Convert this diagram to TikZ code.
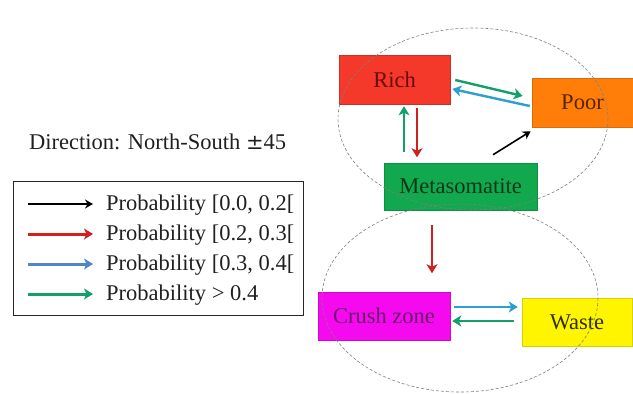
\documentclass[tikz,border=0pt]{standalone}
\usepackage{fontspec}
\setmainfont{Liberation Serif}
\newfontfamily\tnr{Liberation Serif}
\newfontfamily\pmfont{DejaVu Serif}
\usetikzlibrary{arrows.meta,calc}
\definecolor{richc}{HTML}{F4382A}
\definecolor{poorc}{HTML}{FF7E0A}
\definecolor{metac}{HTML}{12A84E}
\definecolor{crushc}{HTML}{F50AF0}
\definecolor{wastec}{HTML}{FFF500}
\definecolor{richt}{HTML}{6A0C08}
\definecolor{poort}{HTML}{5A2400}
\definecolor{metat}{HTML}{083818}
\definecolor{crusht}{HTML}{6A1A6A}
\definecolor{wastet}{HTML}{303000}
\definecolor{agreen}{HTML}{12A06A}
\definecolor{ared}{HTML}{D02020}
\definecolor{ablue}{HTML}{2A9FD0}
\definecolor{lblue}{HTML}{4F86C6}
\definecolor{txtc}{HTML}{202020}
\begin{document}
\begin{tikzpicture}[x=1pt,y=-1pt,
  txt/.style={font=\tnr\fontsize{22.5}{26}\selectfont},
  statebox/.style={txt,draw=#1!85!black,line width=0.5pt,fill=#1,minimum height=48pt,inner sep=0pt},
  ellip/.style={draw=gray,densely dashed,line width=0.6pt},
  arr/.style={line width=2.4pt,-{Stealth[length=9pt,width=11pt,inset=2.5pt]}},
  blk/.style={line width=1.6pt,-{Stealth[length=8pt,width=9pt]}},
  legtxt/.style={txt,text=txtc,anchor=base west,inner sep=0pt}
]
\useasboundingbox (0,0) rectangle (633,394);
\fill[white] (0,0) rectangle (633,394);

% state boxes
\node[statebox=richc,text=richt,minimum width=111pt,minimum height=49pt] (rich) at (394.5,79.5) {Rich};
\node[statebox=poorc,text=poort,minimum width=101pt,minimum height=49pt] (poor) at (582.5,102.5) {Poor};
\node[statebox=metac,text=metat,minimum width=153pt,minimum height=47pt] (meta) at (460.5,186.5) {Metasomatite};
\node[statebox=crushc,text=crusht,minimum width=132pt] (crush) at (384,316) {Crush zone};
\node[statebox=wastec,text=wastet,minimum width=110pt] (waste) at (577,322) {Waste};

% dashed ellipses (drawn over boxes)
\coordinate (e1c) at (473,119);
\draw[ellip] (e1c) ellipse [x radius=135, y radius=91];
\coordinate (e2c) at (460,298);
\draw[ellip] (e2c) ellipse [x radius=138, y radius=94];

% transitions
\draw[arr,agreen] ($(rich.east)+(5,0.5)$) -- ($(poor.west)+(-9,-6.5)$);
\draw[arr,ablue] ($(poor.west)+(-2,3.5)$) -- ($(rich.east)+(2,9.5)$);
\draw[arr,agreen] ($(rich.south)+(9.5,48)$) -- ($(rich.south)+(9.5,2)$);
\draw[arr,ared] ($(rich.south)+(22.5,4)$) -- ($(rich.south)+(22.5,53)$);
\draw[blk,black] ($(meta.north)+(32.5,-8)$) -- ($(poor.south west)+(-1,4)$);
\draw[arr,ared] ($(meta.south)+(-28.5,15)$) -- ($(meta.south)+(-28.5,63)$);
\draw[arr,ablue] ($(crush.east)+(4,-9)$) -- ($(waste.west)+(-4,-15)$);
\draw[arr,agreen] ($(waste.west)+(-8,-1)$) -- ($(crush.east)+(2,5)$);

% direction label
\node[legtxt] (dir) at (29,149) {Direction: North-South {\pmfont\fontsize{21}{24}\selectfont ±}45};

% legend
\node[draw=black!85,line width=0.9pt,minimum width=290pt,minimum height=134pt,inner sep=0pt] (legend) at (158,248) {};
\node[legtxt] (t1) at (106,210.5) {Probability [0.0, 0.2[};
\node[legtxt] (t2) at (106,240.5) {Probability [0.2, 0.3[};
\node[legtxt] (t3) at (106,270.5) {Probability [0.3, 0.4[};
\node[legtxt] (t4) at (106,300.5) {Probability > 0.4};
\coordinate (l1a) at (28,204); \coordinate (l1b) at (93,204);
\coordinate (l2a) at (28,234); \coordinate (l2b) at (93,234);
\coordinate (l3a) at (28,264); \coordinate (l3b) at (93,264);
\coordinate (l4a) at (28,294); \coordinate (l4b) at (93,294);
\draw[blk,black] (l1a) -- (l1b);
\draw[arr,ared,line width=3pt] (l2a) -- (l2b);
\draw[arr,lblue,line width=3pt] (l3a) -- (l3b);
\draw[arr,agreen,line width=3pt] (l4a) -- (l4b);
\end{tikzpicture}
\end{document}
